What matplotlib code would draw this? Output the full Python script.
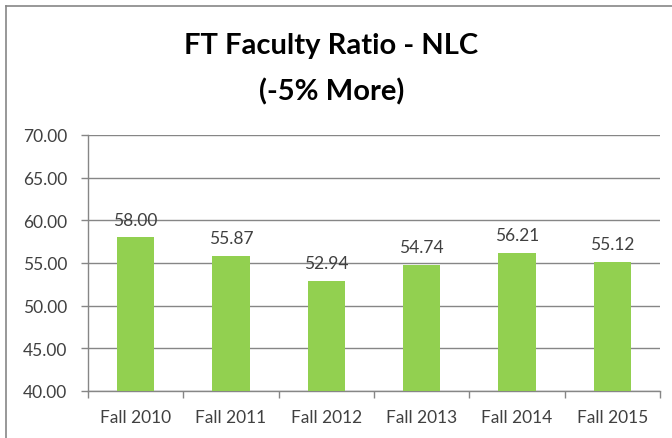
import matplotlib
matplotlib.use("Agg")
import matplotlib.pyplot as plt
from matplotlib.lines import Line2D
import numpy as np

categories = ["Fall 2010", "Fall 2011", "Fall 2012", "Fall 2013", "Fall 2014", "Fall 2015"]
values = [58.00, 55.87, 52.94, 54.74, 56.21, 55.12]
yticks = [40, 45, 50, 55, 60, 65, 70]

plt.rcParams['font.family'] = ['Lato', 'DejaVu Sans']

fig = plt.figure(figsize=(6.72, 4.39), dpi=100)
ax = fig.add_axes([88/672, 1-392/439, (660-88)/672, (392-136)/439])

x = np.arange(len(categories))
ax.bar(x, values, width=0.39, color="#92D050", zorder=3)
ax.set_xlim(-0.5, len(categories)-0.5)
ax.set_ylim(40, 70)
ax.set_yticks(yticks)
ax.set_yticklabels([f"{v:.2f}" for v in yticks], fontsize=12.5, color="#404040")
ax.yaxis.grid(True, color="#868686", linewidth=1, zorder=0)
ax.set_xticks(x)
ax.set_xticklabels(categories, fontsize=12.5, color="#404040")
ax.tick_params(axis='x', length=0, pad=13)
ax.tick_params(axis='y', length=5, color="#868686", pad=10, width=1)
ax.set_xticks(np.arange(len(categories)+1)-0.5, minor=True)
ax.tick_params(axis='x', which='minor', length=5, color="#868686", width=1)
for s in ['top', 'right']:
    ax.spines[s].set_visible(False)
for s in ['left', 'bottom']:
    ax.spines[s].set_color("#868686")
    ax.spines[s].set_linewidth(1)

for xi, v in zip(x, values):
    ax.annotate(f"{v:.2f}", (xi, v), xytext=(0, 7), textcoords="offset points",
                ha="center", va="bottom", fontsize=12.5, color="#404040")

fig.text(0.493, 1-46/439, "FT Faculty Ratio - NLC", ha="center", va="center",
         fontsize=21, fontweight="bold", color="#000000")
fig.text(0.493, 1-92/439, "(-5% More)", ha="center", va="center",
         fontsize=21, fontweight="bold", color="#000000")

# chart border (top and left visible)
fig.add_artist(Line2D([6/672, 1.0], [1-7/439, 1-7/439], transform=fig.transFigure, color="#868686", linewidth=1.2))
fig.add_artist(Line2D([6/672, 6/672], [0, 1-7/439], transform=fig.transFigure, color="#868686", linewidth=1.2))

fig.savefig("out.png", dpi=100)
